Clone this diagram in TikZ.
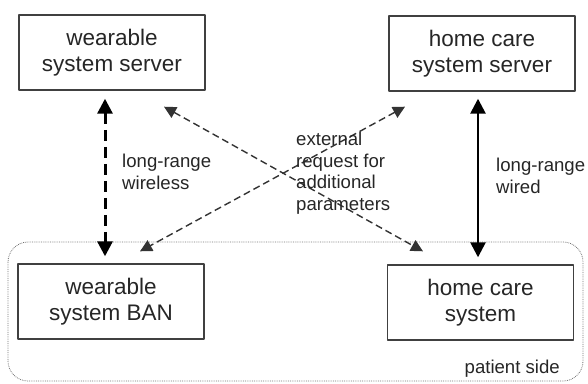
\documentclass[tikz,border=0pt]{standalone}
\usepackage{fontspec}
\setmainfont{Liberation Sans}
\usetikzlibrary{arrows.meta,calc}
\begin{document}
\begin{tikzpicture}[x=1pt,y=-1pt, line join=round, >={Triangle[width=15pt,length=15pt]},
    box/.style={draw=black!75, line width=1.4pt, minimum width=186pt, minimum height=75pt, inner sep=0pt, align=center, font=\fontsize{22.5}{26}\selectfont, text=black!85},
    lbl/.style={inner sep=0pt, align=left, font=\fontsize{18.6}{21.5}\selectfont, text=black!85},
    thin arr/.style={<->, >={Triangle[width=12pt,length=12pt]}, line width=1.4pt, dash pattern=on 7pt off 4pt, black!80}]
    \useasboundingbox (0,0) rectangle (588,383);
    % patient side
    \draw[black!55, densely dotted, line width=0.8pt, rounded corners=20pt] (8,242) rectangle (583,381);
    \node[lbl, anchor=east] (pside) at (560,369) {patient side};
    % boxes
    \node[box] (wss) at (112,52.5) {wearable\\system server};
    \node[box] (hcss) at (482,53.5) {home care\\system server};
    \node[box] (ban) at (111,301.5) {wearable\\system BAN};
    \node[box] (hcs) at (480.5,302.5) {home care\\system};
    % links
    \draw[<->, line width=3pt, dash pattern=on 11pt off 6pt] ($(wss.south)+(-7,8)$) -- ($(ban.north)+(-6,-7)$);
    \draw[<->, line width=2.6pt] ($(hcss.south)+(-4,7)$) -- ($(hcs.north)+(-2.5,-7)$);
    \draw[thin arr] ($(wss.south)+(52,16)$) -- ($(hcs.north)+(-57.5,-13)$);
    \draw[thin arr] ($(hcss.south)+(-77,15)$) -- ($(ban.north)+(29,-12)$);
    % labels
    \node[lbl, anchor=west] (wless) at (122,172) {long-range\\wireless};
    \node[lbl, anchor=west] (wired) at (496,176) {long-range\\wired};
    \node[lbl, anchor=west] (req) at (296,173) {external\\request for\\additional\\parameters};
\end{tikzpicture}
\end{document}
